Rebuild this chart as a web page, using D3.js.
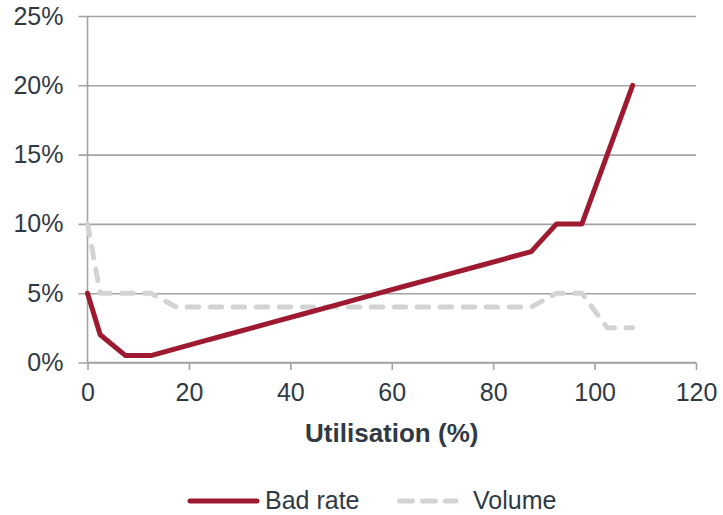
<!DOCTYPE html>
<html>
<head>
<meta charset="utf-8">
<script src="https://cdn.jsdelivr.net/npm/d3@7"></script>
<style>
  html, body { margin: 0; padding: 0; background: #fff; }
  svg { display: block; font-family: "Liberation Sans", Arial, sans-serif; }
</style>
</head>
<body>
<svg id="chart" width="723" height="515"></svg>
<script>
// Utilisation buckets (%) at bucket midpoints
const utilisation = [0, 2.5, 7.5, 12.5, 17.5, 22.5, 27.5, 32.5, 37.5, 42.5, 47.5, 52.5, 57.5, 62.5, 67.5, 72.5, 77.5, 82.5, 87.5, 92.5, 97.5, 102.5, 107.5];
// Bad rate per bucket (%)
const badRate = [5, 2, 0.5, 0.5, 1, 1.5, 2, 2.5, 3, 3.5, 4, 4.5, 5, 5.5, 6, 6.5, 7, 7.5, 8, 10, 10, 15, 20];
// Share of accounts per bucket (%)
const volume = [10, 5, 5, 5, 4, 4, 4, 4, 4, 4, 4, 4, 4, 4, 4, 4, 4, 4, 4, 5, 5, 2.5, 2.5];
const xTicks = [0, 20, 40, 60, 80, 100, 120];
const yTicks = [0, 5, 10, 15, 20, 25];

const svg = d3.select("#chart");
const m = { left: 87.5, right: 696, top: 16, bottom: 362.5 };

const x = d3.scaleLinear().domain([0, 120]).range([m.left, m.right]);
const y = d3.scaleLinear().domain([0, 25]).range([m.bottom, m.top]);

const gridColor = "#a3a3a3";
const textColor = "#2f3a45";
const fontSize = 25;
const badColor = "#9e1a30";
const volColor = "#d3d3d3";

// Horizontal gridlines with tick stubs to the left of the axis
svg.append("g")
  .attr("transform", `translate(${m.left},0)`)
  .call(d3.axisLeft(y).tickValues(yTicks).tickSize(-(m.right - m.left)).tickFormat(d => d + "%").tickPadding(24))
  .call(g => g.select(".domain").remove())
  .call(g => g.selectAll(".tick line").attr("stroke", gridColor).attr("stroke-width", 1.6).attr("x1", -9))
  .call(g => g.selectAll(".tick text").attr("fill", textColor).attr("font-size", fontSize).attr("font-family", "Liberation Sans, Arial, sans-serif"));

// Vertical axis line
svg.append("line")
  .attr("x1", m.left).attr("x2", m.left)
  .attr("y1", m.top).attr("y2", m.bottom)
  .attr("stroke", gridColor).attr("stroke-width", 1.6);

// Bottom axis
svg.append("g")
  .attr("transform", `translate(0,${m.bottom})`)
  .call(d3.axisBottom(x).tickValues(xTicks).tickSize(7.5).tickPadding(13))
  .call(g => g.select(".domain").attr("stroke", gridColor).attr("stroke-width", 1.6).attr("d", `M${m.left},0H${m.right}`))
  .call(g => g.selectAll(".tick line").attr("stroke", gridColor).attr("stroke-width", 1.6))
  .call(g => g.selectAll(".tick text").attr("fill", textColor).attr("font-size", fontSize).attr("font-family", "Liberation Sans, Arial, sans-serif"));

// Axis title
svg.append("text")
  .attr("x", (m.left + m.right) / 2)
  .attr("y", 442)
  .attr("text-anchor", "middle")
  .attr("font-size", 26)
  .attr("font-weight", "bold")
  .attr("fill", textColor)
  .text("Utilisation (%)");

const line = d3.line().x(d => x(d[0])).y(d => y(d[1]));

// Volume (dashed)
svg.append("path")
  .datum(utilisation.map((u, i) => [u, volume[i]]))
  .attr("d", line)
  .attr("fill", "none")
  .attr("stroke", volColor)
  .attr("stroke-width", 5)
  .attr("stroke-dasharray", "11.5,11.5")
  .attr("stroke-linecap", "round")
  .attr("stroke-linejoin", "round");

// Bad rate (solid)
svg.append("path")
  .datum(utilisation.map((u, i) => [u, badRate[i]]))
  .attr("d", line)
  .attr("fill", "none")
  .attr("stroke", badColor)
  .attr("stroke-width", 5)
  .attr("stroke-linecap", "round")
  .attr("stroke-linejoin", "round");

// Legend
const legend = svg.append("g").attr("font-size", fontSize).attr("fill", textColor);
legend.append("line")
  .attr("x1", 190).attr("x2", 257).attr("y1", 501).attr("y2", 501)
  .attr("stroke", badColor).attr("stroke-width", 5).attr("stroke-linecap", "round");
legend.append("text").attr("x", 265).attr("y", 509).text("Bad rate");
legend.append("line")
  .attr("x1", 399.5).attr("x2", 456).attr("y1", 501).attr("y2", 501)
  .attr("stroke", volColor).attr("stroke-width", 5).attr("stroke-linecap", "round")
  .attr("stroke-dasharray", "13,10");
legend.append("text").attr("x", 473).attr("y", 509).text("Volume");
</script>
</body>
</html>
